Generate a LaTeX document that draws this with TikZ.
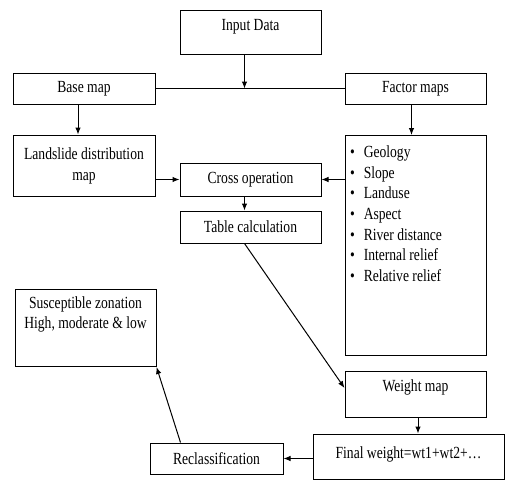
\documentclass[tikz,border=0pt]{standalone}
\usepackage{fontspec}
\setmainfont{Liberation Serif}
\newfontfamily\diagfont[FakeStretch=0.8]{Liberation Serif}
\usetikzlibrary{arrows.meta,positioning}

\begin{document}
\begin{tikzpicture}[x=1pt,y=-1pt,
  box/.style={draw,line width=1pt,align=center,inner sep=0pt,
    minimum width=#1,font=\diagfont\fontsize{17}{21}\selectfont},
  arr/.style={line width=1pt,-{Latex[length=7pt,width=5.5pt]}},
  link/.style={line width=1pt},
]
  \useasboundingbox (0,0) rectangle (507,480);
  \node[box=141pt,minimum height=44pt,text height=11pt,text depth=16pt] (input) at (250.5,32.5) {Input Data};
  \node[box=142pt,minimum height=31pt] (base) at (84,88.5) {Base map};
  \node[box=141pt,minimum height=31pt] (factor) at (415.5,88.5) {Factor maps};
  \node[box=142pt,minimum height=61pt] (slide) at (84,165.5) {Landslide distribution\\map};
  \node[box=141pt,minimum height=33pt] (cross) at (250.5,179.5) {Cross operation};
  \node[box=141pt,minimum height=32pt] (table) at (250.5,227) {Table calculation};
  \node[box=141pt,minimum height=220pt,anchor=north] (factlist) at (415.5,135)
    {\parbox[c][219pt][t]{131pt}{\raggedright\diagfont\fontsize{17}{20.6}\selectfont
     \vspace*{10pt}%
     \textbullet\hspace{9pt}Geology\\
     \textbullet\hspace{9pt}Slope\\
     \textbullet\hspace{9pt}Landuse\\
     \textbullet\hspace{9pt}Aspect\\
     \textbullet\hspace{9pt}River distance\\
     \textbullet\hspace{9pt}Internal relief\\
     \textbullet\hspace{9pt}Relative relief}};
  \node[box=141pt,minimum height=46pt,text height=12pt,text depth=16.6pt] (weight) at (415.5,394) {Weight map};
  \node[box=191pt,minimum height=45pt,text height=12pt,text depth=9pt] (final) at (408.5,456.5) {Final weight=wt1+wt2+\dots};
  \node[box=133pt,minimum height=31pt] (recl) at (216.5,458.5) {Reclassification};
  \node[box=141pt,minimum height=77pt,anchor=north] (suscept) at (85.5,289)
    {\parbox[c][76pt][t]{139pt}{\centering\diagfont\fontsize{17}{20}\selectfont
     \vspace*{7pt}%
     Susceptible zonation\\High, moderate \& low}};

  % input data split
  \draw[link] (base.east) -- (factor.west);
  \draw[arr] ([xshift=-6pt]input.south) -- ([xshift=-6pt]input.south |- base.east);
  \draw[arr] ([xshift=-6pt]base.south) -- ([xshift=-6pt]slide.north);
  \draw[arr] ([xshift=-4pt]factor.south) -- ([xshift=-4pt]factlist.north);
  % overlay
  \draw[arr] (slide.east |- cross.west) -- (cross.west);
  \draw[arr] (factlist.west |- cross.east) -- (cross.east);
  \draw[arr] ([xshift=-6pt]cross.south) -- ([xshift=-6pt]table.north);
  \draw[arr] ([xshift=-6pt]table.south) -- ([yshift=6pt]weight.west);
  \draw[arr] ([xshift=2.5pt]weight.south) -- ([xshift=2.5pt]weight.south |- final.north);
  \draw[arr] (final.west |- recl.east) -- (recl.east);
  \draw[arr] ([xshift=-36pt]recl.north) -- (suscept.south east);
\end{tikzpicture}
\end{document}
